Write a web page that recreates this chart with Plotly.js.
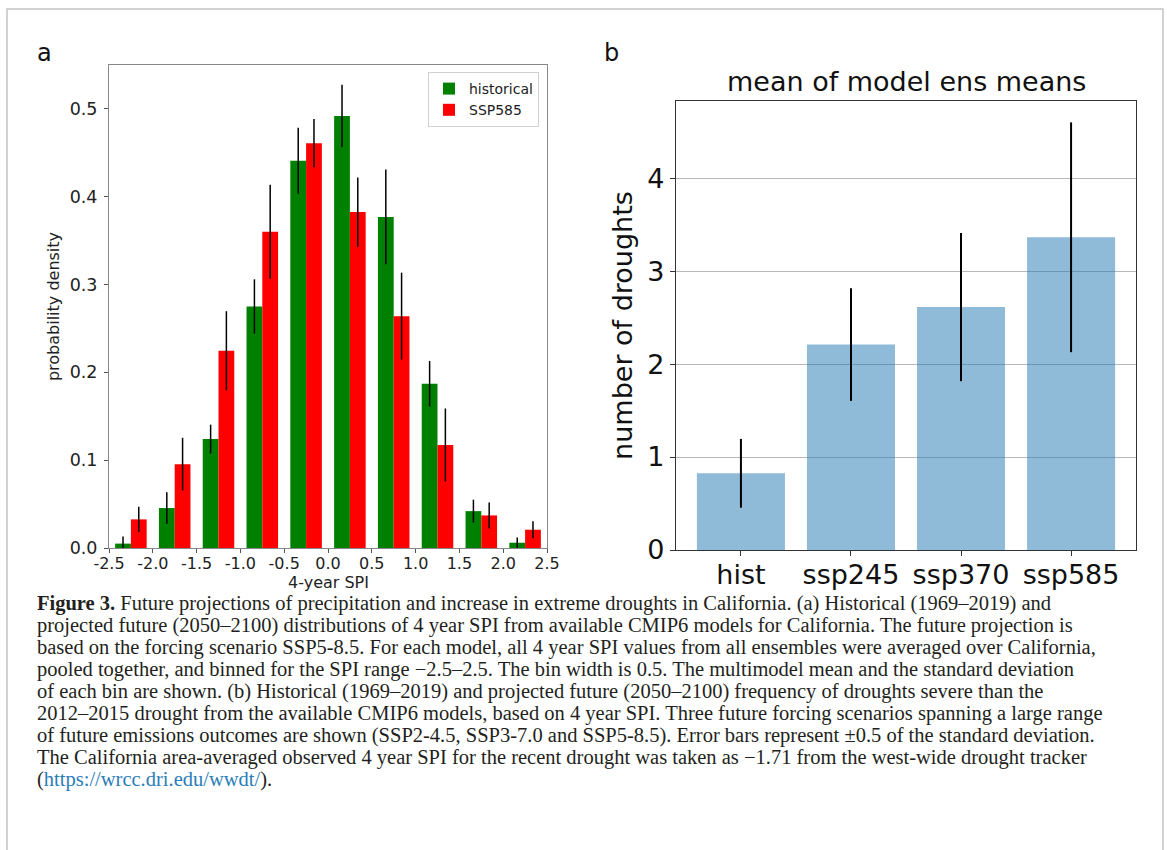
<!DOCTYPE html>
<html>
<head>
<meta charset="utf-8">
<script src="https://cdn.plot.ly/plotly-3.0.1.min.js"></script>
<style>html,body{margin:0;padding:0;background:#fff;}#chart{width:1167px;height:850px;}</style>
</head>
<body>
<div id="chart"></div>
<script>
// ---- Panel a data ----
const binCenters = [-2.25, -1.75, -1.25, -0.75, -0.25, 0.25, 0.75, 1.25, 1.75, 2.25];
const historical = [0.005, 0.0455, 0.124, 0.275, 0.441, 0.492, 0.377, 0.187, 0.042, 0.006];
const historicalStd = [0.008, 0.018, 0.0165, 0.031, 0.0375, 0.0355, 0.054, 0.026, 0.013, 0.006];
const ssp585 = [0.0326, 0.0955, 0.2246, 0.360, 0.461, 0.3825, 0.264, 0.1174, 0.0371, 0.0208];
const ssp585Std = [0.0145, 0.030, 0.045, 0.0535, 0.0275, 0.0395, 0.0495, 0.0415, 0.0148, 0.0098];
const spiTickVals = [-2.5, -2.0, -1.5, -1.0, -0.5, 0.0, 0.5, 1.0, 1.5, 2.0, 2.5];
const spiTickText = ['-2.5', '-2.0', '-1.5', '-1.0', '-0.5', '0.0', '0.5', '1.0', '1.5', '2.0', '2.5'];
const densTickVals = [0, 0.1, 0.2, 0.3, 0.4, 0.5];
const densTickText = ['0.0', '0.1', '0.2', '0.3', '0.4', '0.5'];

// ---- Panel b data ----
const scenarios = ['hist', 'ssp245', 'ssp370', 'ssp585'];
const droughts = [0.825, 2.21, 2.613, 3.364];
const droughtErr = [0.37, 0.606, 0.797, 1.236];

// ---- Caption ----
const captionLines = [
  '<b>Figure 3.</b> Future projections of precipitation and increase in extreme droughts in California. (a) Historical (1969–2019) and',
  'projected future (2050–2100) distributions of 4 year SPI from available CMIP6 models for California. The future projection is',
  'based on the forcing scenario SSP5-8.5. For each model, all 4 year SPI values from all ensembles were averaged over California,',
  'pooled together, and binned for the SPI range −2.5–2.5. The bin width is 0.5. The multimodel mean and the standard deviation',
  'of each bin are shown. (b) Historical (1969–2019) and projected future (2050–2100) frequency of droughts severe than the',
  '2012–2015 drought from the available CMIP6 models, based on 4 year SPI. Three future forcing scenarios spanning a large range',
  'of future emissions outcomes are shown (SSP2-4.5, SSP3-7.0 and SSP5-8.5). Error bars represent ±0.5 of the standard deviation.',
  'The California area-averaged observed 4 year SPI for the recent drought was taken as −1.71 from the west-wide drought tracker',
  '(<span style="color:#2a7db8">https://wrcc.dri.edu/wwdt/</span>).'
];

const W = 1167, H = 850;
const px = v => v / W;
const py = v => 1 - v / H;
const FONT = 'DejaVu Sans, sans-serif';

const traces = [
  {
    type: 'bar', name: 'historical', x: binCenters, y: historical,
    width: 0.18, offset: -0.18, marker: {color: '#008000'},
    error_y: {type: 'data', array: historicalStd, visible: true, color: '#000', thickness: 1.5, width: 0},
    xaxis: 'x', yaxis: 'y', showlegend: true
  },
  {
    type: 'bar', name: 'SSP585', x: binCenters, y: ssp585,
    width: 0.18, offset: 0, marker: {color: '#ff0000'},
    error_y: {type: 'data', array: ssp585Std, visible: true, color: '#000', thickness: 1.5, width: 0},
    xaxis: 'x', yaxis: 'y', showlegend: true
  },
  {
    type: 'bar', name: 'droughts', x: scenarios, y: droughts,
    width: 0.8, marker: {color: 'rgba(31,119,180,0.5)'},
    error_y: {type: 'data', array: droughtErr, visible: true, color: '#000', thickness: 2, width: 0},
    xaxis: 'x2', yaxis: 'y2', showlegend: false
  }
];

const annotations = [
  {text: 'a', x: px(44), y: py(53), xref: 'paper', yref: 'paper', showarrow: false,
   font: {family: FONT, size: 24, color: '#111'}, xanchor: 'center', yanchor: 'middle'},
  {text: 'b', x: px(611), y: py(53), xref: 'paper', yref: 'paper', showarrow: false,
   font: {family: FONT, size: 24, color: '#111'}, xanchor: 'center', yanchor: 'middle'},
  {text: 'mean of model ens means', x: px(906), y: py(82), xref: 'paper', yref: 'paper', showarrow: false,
   font: {family: FONT, size: 27, color: '#111'}, xanchor: 'center', yanchor: 'middle'},
  {text: '4-year SPI', x: px(328), y: py(582), xref: 'paper', yref: 'paper', showarrow: false,
   font: {family: FONT, size: 16, color: '#222'}, xanchor: 'center', yanchor: 'middle'}
];
captionLines.forEach((t, i) => {
  annotations.push({
    text: t, x: px(35), y: py(603 + i * 22), xref: 'paper', yref: 'paper', showarrow: false,
    xanchor: 'left', yanchor: 'middle', align: 'left',
    font: {family: 'Liberation Serif, serif', size: 20.5, color: '#231f20'}
  });
});

const layout = {
  width: W, height: H,
  margin: {l: 0, r: 0, t: 0, b: 0},
  paper_bgcolor: '#fff', plot_bgcolor: '#fff',
  barmode: 'overlay',
  font: {family: FONT, color: '#111'},
  showlegend: true,
  legend: {
    x: px(539), y: py(72), xanchor: 'right', yanchor: 'top',
    bgcolor: '#fff', bordercolor: '#d0d0d0', borderwidth: 1,
    font: {family: FONT, size: 14, color: '#222'}, tracegroupgap: 0, itemwidth: 30
  },
  xaxis: {
    domain: [px(109), px(547)], anchor: 'y', range: [-2.5, 2.5],
    tickvals: spiTickVals, ticktext: spiTickText,
    ticks: 'outside', ticklen: 4, tickcolor: '#555', ticklabelstandoff: -3,
    tickfont: {family: FONT, size: 16, color: '#222'},
    showline: true, linecolor: '#888', linewidth: 1, mirror: true, showgrid: false, zeroline: false
  },
  yaxis: {
    domain: [py(548), py(65)], anchor: 'x', range: [0, 0.55],
    tickvals: densTickVals, ticktext: densTickText,
    ticks: 'outside', ticklen: 4, tickcolor: '#555', ticklabelstandoff: 3,
    tickfont: {family: FONT, size: 17.5, color: '#222'},
    showline: true, linecolor: '#888', linewidth: 1, mirror: true, showgrid: false, zeroline: false,
    title: {text: 'probability density', font: {family: FONT, size: 16, color: '#222'}, standoff: 6}
  },
  xaxis2: {
    domain: [px(676), px(1136)], anchor: 'y2', range: [-0.59, 3.59], type: 'category',
    ticks: 'outside', ticklen: 5, tickcolor: '#333', ticklabelstandoff: -5,
    tickfont: {family: FONT, size: 27, color: '#111'},
    showline: true, linecolor: '#333', linewidth: 1.2, mirror: true, showgrid: false, zeroline: false
  },
  yaxis2: {
    domain: [py(550), py(101)], anchor: 'x2', range: [0, 4.83], dtick: 1, tick0: 0,
    ticks: 'outside', ticklen: 5, tickcolor: '#333',
    tickfont: {family: FONT, size: 27, color: '#111'},
    showline: true, linecolor: '#333', linewidth: 1.2, mirror: true,
    showgrid: true, gridcolor: '#b8b8b8', gridwidth: 1, zeroline: false,
    title: {text: 'number of droughts', font: {family: FONT, size: 27, color: '#111'}, standoff: 6}
  },
  annotations: annotations,
  shapes: [
    {type: 'rect', xref: 'paper', yref: 'paper', x0: px(7), x1: px(1163), y0: -0.05, y1: py(9),
     line: {color: '#c4c4c4', width: 1.5}, fillcolor: 'rgba(0,0,0,0)', layer: 'below'}
  ]
};

Plotly.newPlot('chart', traces, layout, {staticPlot: true, displayModeBar: false});
</script>
</body>
</html>
